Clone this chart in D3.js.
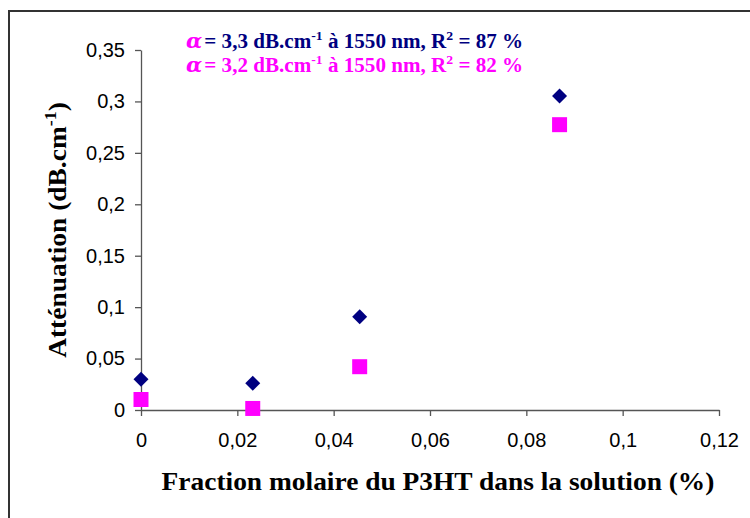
<!DOCTYPE html>
<html>
<head>
<meta charset="utf-8">
<script src="https://cdn.jsdelivr.net/npm/d3@7/dist/d3.min.js"></script>
<style>
  html, body { margin: 0; padding: 0; background: #fff; }
  svg { display: block; }
</style>
</head>
<body>
<svg id="chart" width="750" height="518"></svg>
<script>
// Fraction molaire du P3HT (%) for each sample
const fractions = [0, 0.0232, 0.0454, 0.0869];
// Atténuation (dB.cm-1), first series (navy diamonds)
const attenuationA = [0.030, 0.026, 0.0907, 0.3053];
// Atténuation (dB.cm-1), second series (magenta squares)
const attenuationB = [0.0102, 0.0015, 0.0421, 0.2774];

const xTicks = [0, 0.02, 0.04, 0.06, 0.08, 0.1, 0.12];
const yTicks = [0, 0.05, 0.1, 0.15, 0.2, 0.25, 0.3, 0.35];

const fitLabels = [
  { text: "= 3,3 dB.cm", sup1: "-1", mid: " à 1550 nm, R", sup2: "2", end: " = 87 %" },
  { text: "= 3,2 dB.cm", sup1: "-1", mid: " à 1550 nm, R", sup2: "2", end: " = 82 %" }
];

const NAVY = "#000080";
const MAGENTA = "#ff00ff";
const SERIF = "'Liberation Serif', 'Times New Roman', serif";
const SANS = "'Liberation Sans', Arial, sans-serif";
const STRETCH = 1.055; // serif titles are slightly wider than their natural width

const svg = d3.select("#chart");
const fr = d3.formatLocale({ decimal: ",", thousands: " ", grouping: [3], currency: ["", ""] });
const fmt = fr.format("~g");

// Outer chart frame (left and top edges visible)
svg.append("path")
  .attr("d", "M9,520 L9,11 L752,11")
  .attr("fill", "none")
  .attr("stroke", "#333")
  .attr("stroke-width", 2);

const x = d3.scaleLinear().domain([0, 0.12]).range([141, 719]);
const y = d3.scaleLinear().domain([0, 0.35]).range([410, 50]);

// Y axis
const yAxis = svg.append("g")
  .attr("transform", `translate(${x(0)},0)`)
  .call(d3.axisLeft(y).tickValues(yTicks).tickFormat(fmt).tickSize(6).tickSizeOuter(0).tickPadding(10));
// X axis
const xAxis = svg.append("g")
  .attr("transform", `translate(0,${y(0)})`)
  .call(d3.axisBottom(x).tickValues(xTicks).tickFormat(fmt).tickSize(6).tickSizeOuter(0).tickPadding(12));

[yAxis, xAxis].forEach(g => {
  g.select(".domain").attr("stroke", "#555").attr("stroke-width", 1.3);
  g.selectAll(".tick line").attr("stroke", "#555").attr("stroke-width", 1.3);
  g.selectAll(".tick text")
    .attr("fill", "#000")
    .style("font-family", SANS)
    .style("font-size", "20px");
});
xAxis.selectAll(".tick text").attr("dy", "0.95em");

// Axis titles
svg.append("text")
  .attr("transform", `translate(438,490) scale(${STRETCH},1)`)
  .attr("text-anchor", "middle")
  .style("font-family", SERIF)
  .style("font-weight", "bold")
  .style("font-size", "26px")
  .text("Fraction molaire du P3HT dans la solution (%)");

const yTitle = svg.append("text")
  .attr("transform", `translate(66,230) rotate(-90) scale(${STRETCH},1)`)
  .attr("text-anchor", "middle")
  .style("font-family", SERIF)
  .style("font-weight", "bold")
  .style("font-size", "26px");
yTitle.append("tspan").text("Atténuation (dB.cm");
yTitle.append("tspan").attr("dy", -10).style("font-size", "17px").text("-1");
yTitle.append("tspan").attr("dy", 10).text(")");

// Fit annotations
const colors = [NAVY, MAGENTA];
fitLabels.forEach((d, i) => {
  const t = svg.append("text")
    .attr("transform", `translate(186,${48 + i * 24}) scale(${STRETCH},1)`)
    .style("font-family", SERIF)
    .style("font-weight", "bold")
    .style("font-size", "20px")
    .attr("fill", colors[i]);
  t.append("tspan").attr("fill", MAGENTA).style("font-style", "italic")
    .style("font-family", "'DejaVu Serif', serif").style("font-size", "20px").text("α");
  t.append("tspan").attr("dx", 2).text(d.text);
  t.append("tspan").attr("dy", -8).style("font-size", "13px").text(d.sup1);
  t.append("tspan").attr("dy", 8).text(d.mid);
  t.append("tspan").attr("dy", -8).style("font-size", "13px").text(d.sup2);
  t.append("tspan").attr("dy", 8).text(d.end);
});

// Series A: navy diamonds
const diamond = d3.symbol().type(d3.symbolSquare).size(112)();
svg.append("g").selectAll("path")
  .data(fractions.map((f, i) => [f, attenuationA[i]]))
  .join("path")
  .attr("d", diamond)
  .attr("transform", d => `translate(${x(d[0])},${y(d[1])}) rotate(45)`)
  .attr("fill", NAVY);

// Series B: magenta squares
const square = d3.symbol().type(d3.symbolSquare).size(225)();
svg.append("g").selectAll("path")
  .data(fractions.map((f, i) => [f, attenuationB[i]]))
  .join("path")
  .attr("d", square)
  .attr("transform", d => `translate(${x(d[0])},${y(d[1])})`)
  .attr("fill", MAGENTA);
</script>
</body>
</html>
